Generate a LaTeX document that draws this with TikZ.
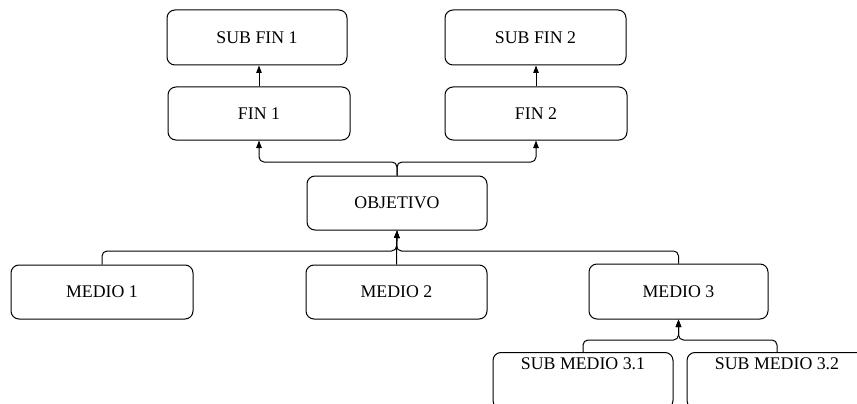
\documentclass[tikz,border=0pt]{standalone}
\usepackage{fontspec}
\setmainfont{Liberation Serif}
\usetikzlibrary{arrows.meta}
\begin{document}
\begin{tikzpicture}[x=1pt,y=-1pt,
  box/.style={draw, line width=1pt, rounded corners=8pt, inner sep=0pt,
    font=\fontsize{17.8}{20}\selectfont, minimum width=181pt, minimum height=54pt},
  conn/.style={line width=1pt, rounded corners=5pt, -{Triangle[length=7.5pt,width=5.5pt]}}]
\useasboundingbox (0,0) rectangle (857,404);
\clip (0,0) rectangle (857,404);
\node[box, minimum width=180pt, minimum height=55pt] (sf1) at (257,37.5) {SUB FIN 1};
\node[box, minimum width=182pt, minimum height=53pt] (f1) at (259,113.5) {FIN 1};
\node[box, minimum width=181pt, minimum height=55pt] (sf2) at (535.5,37.5) {SUB FIN 2};
\node[box, minimum width=182pt, minimum height=53pt] (f2) at (536,113.5) {FIN 2};
\node[box, minimum width=180pt] (obj) at (397,203) {OBJETIVO};
\node[box, minimum width=182pt] (m1) at (102,292) {MEDIO 1};
\node[box] (m2) at (396.5,292) {MEDIO 2};
\node[box, minimum width=179pt, minimum height=55pt] (m3) at (678.5,291.5) {MEDIO 3};
\node[box, minimum width=180pt, minimum height=56pt] (sm1) at (583,380.5) {\raisebox{11.5pt}[0pt][0pt]{SUB MEDIO 3.1}};
\node[box, minimum width=180pt, minimum height=56pt] (sm2) at (777,380.5) {\raisebox{11.5pt}[0pt][0pt]{SUB MEDIO 3.2}};
\coordinate (jt) at (397,162);
\coordinate (jb) at (396.5,251);
\coordinate (js) at (678.5,340);
% top
\draw[conn] (f1.north) -- (f1.north |- sf1.south);
\draw[conn] (f2.north) -- (f2.north |- sf2.south);
\draw[conn] (obj.north) -- (jt) -| (f1.south);
\draw[conn] (obj.north) -- (jt) -| (f2.south);
% bottom
\draw[conn] (m1.north) |- (jb) -- (obj.south);
\draw[conn] (m3.north) |- (jb) -- (obj.south);
\draw[conn] (m2.north) -- (obj.south);
% sub medio
\draw[conn] (sm1.north) |- (js) -- (m3.south);
\draw[conn] (sm2.north) |- (js) -- (m3.south);
\end{tikzpicture}
\end{document}
